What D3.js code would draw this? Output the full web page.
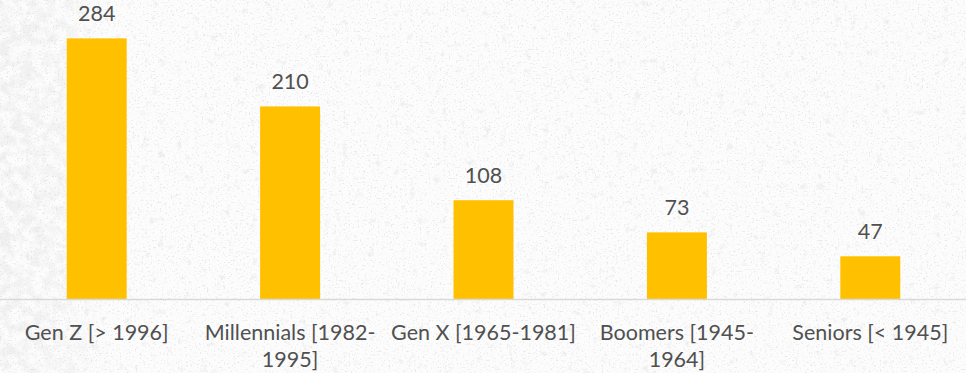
<!DOCTYPE html>
<html>
<head>
<meta charset="utf-8">
<script src="https://cdn.jsdelivr.net/npm/d3@7/dist/d3.min.js"></script>
<style>
  html, body { margin: 0; padding: 0; background: #ffffff; }
  svg { display: block; }
  text { font-family: Lato, "Open Sans", sans-serif; fill: #505050; }
</style>
</head>
<body>
<svg id="chart" width="966" height="373"></svg>
<script>
// Respondents by generation
const categories = ["Gen Z [> 1996]", "Millennials [1982-1995]", "Gen X [1965-1981]", "Boomers [1945-1964]", "Seniors [< 1945]"];
const values = [284, 210, 108, 73, 47];
const yDomain = [0, 300];

const W = 966, H = 373;
const baseY = 299.5;
const svg = d3.select("#chart");
const defs = svg.append("defs");

// Speckle filter: noise thresholded into sparse grey flecks
function speckle(id, freq, seed, octaves, gain, offset, grey) {
  const f = defs.append("filter").attr("id", id)
    .attr("x", 0).attr("y", 0).attr("width", "100%").attr("height", "100%");
  f.append("feTurbulence").attr("type", "fractalNoise")
    .attr("baseFrequency", freq).attr("numOctaves", octaves).attr("seed", seed).attr("result", "n");
  f.append("feColorMatrix").attr("in", "n").attr("type", "matrix")
    .attr("values", `0 0 0 0 ${grey}  0 0 0 0 ${grey}  0 0 0 0 ${grey}  ${gain} 0 0 0 ${offset}`)
    .attr("result", "speck");
  f.append("feComposite").attr("in", "speck").attr("in2", "SourceGraphic").attr("operator", "in");
}
speckle("fine", 0.55, 11, 2, 6, -3.6, 0.72);
speckle("fibre", 0.12, 4, 3, 5, -3.2, 0.78);
speckle("blot", 0.09, 21, 4, 3.2, -1.2, 0.86);

const fade = defs.append("linearGradient").attr("id", "fadeL").attr("x1", 0).attr("x2", 1);
fade.append("stop").attr("offset", 0).attr("stop-color", "#fff").attr("stop-opacity", 1);
fade.append("stop").attr("offset", 0.6).attr("stop-color", "#fff").attr("stop-opacity", 0.7);
fade.append("stop").attr("offset", 1).attr("stop-color", "#fff").attr("stop-opacity", 0);

svg.append("rect").attr("width", W).attr("height", H).attr("fill", "#fcfcfc");
svg.append("rect").attr("width", 110).attr("height", H).attr("fill", "url(#fadeL)").attr("filter", "url(#blot)").attr("opacity", 0.9);
svg.append("rect").attr("width", W).attr("height", H).attr("fill", "#fff").attr("filter", "url(#fine)").attr("opacity", 0.6);
svg.append("rect").attr("width", W).attr("height", H).attr("fill", "#fff").attr("filter", "url(#fibre)").attr("opacity", 0.5);

const x = d3.scaleBand().domain(categories).range([0, W + 1]).paddingInner(0.69).paddingOuter(0.345);
const y = d3.scaleLinear().domain(yDomain).range([baseY, baseY - 0.9195 * yDomain[1]]);

// Bars
svg.append("g").selectAll("rect").data(values).join("rect")
  .attr("x", (d, i) => x(categories[i]))
  .attr("width", x.bandwidth())
  .attr("y", d => y(d))
  .attr("height", d => y(0) - y(d))
  .attr("fill", "#ffc000");

// Baseline
svg.append("line").attr("x1", 0).attr("x2", W).attr("y1", baseY).attr("y2", baseY)
  .attr("stroke", "#d9d9d9").attr("stroke-width", 1.5);

// Value labels
svg.append("g").selectAll("text").data(values).join("text")
  .attr("x", (d, i) => x(categories[i]) + x.bandwidth() / 2)
  .attr("y", d => y(d) - 17)
  .attr("text-anchor", "middle")
  .attr("font-size", 21.5)
  .text(d => d);

// Category labels, wrapped after the hyphen when wider than the band step
const step = x.step();
const labels = svg.append("g").selectAll("text").data(categories).join("text")
  .attr("x", d => x(d) + x.bandwidth() / 2)
  .attr("y", 340)
  .attr("text-anchor", "middle")
  .attr("font-size", 21.5)
  .text(d => d);
labels.each(function(d) {
  const t = d3.select(this);
  if (this.getComputedTextLength() > step - 4 && d.includes("-")) {
    const k = d.lastIndexOf("-") + 1;
    const cx = t.attr("x");
    t.text(null);
    t.append("tspan").attr("x", cx).attr("dy", 0).text(d.slice(0, k));
    t.append("tspan").attr("x", cx).attr("dy", 27).text(d.slice(k));
  }
});
</script>
</body>
</html>
